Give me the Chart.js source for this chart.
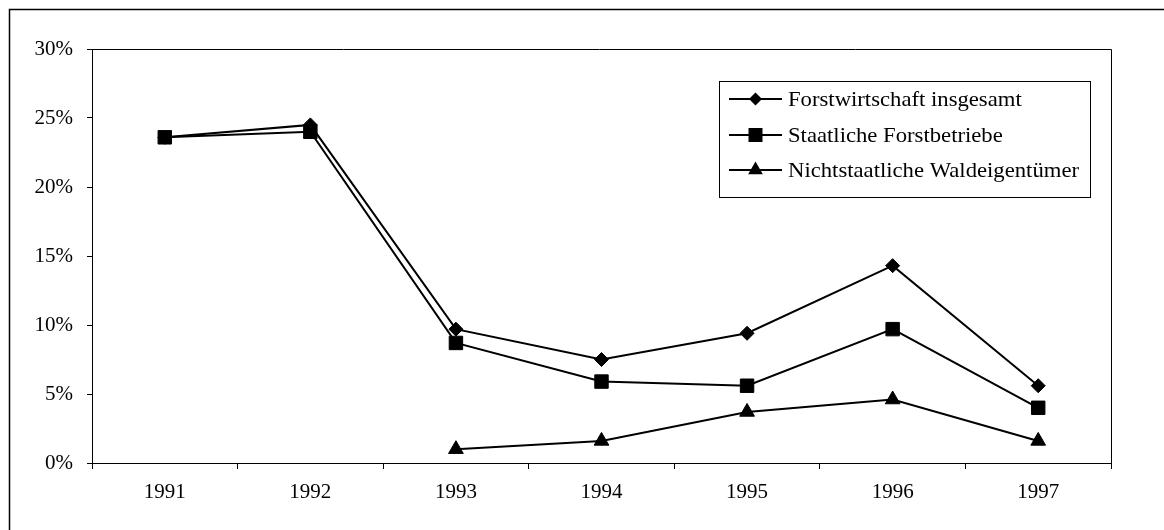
<!DOCTYPE html>
<html>
<head>
<meta charset="utf-8">
<script src="https://cdn.jsdelivr.net/npm/chart.js@4.4.1/dist/chart.umd.min.js"></script>
<style>
html,body{margin:0;padding:0;background:#fff;}
#wrap{width:1164px;height:530px;position:relative;}
</style>
</head>
<body>
<div id="wrap"><canvas id="c" width="1164" height="530"></canvas></div>
<script>
// ---- data ----
const years = ['1991', '1992', '1993', '1994', '1995', '1996', '1997'];
const forstwirtschaftInsgesamt = [23.6, 24.5, 9.7, 7.5, 9.4, 14.3, 5.6];
const staatlicheForstbetriebe = [23.6, 24.0, 8.7, 5.9, 5.6, 9.7, 4.0];
const nichtstaatlicheWaldeigentuemer = [null, null, 1.0, 1.6, 3.7, 4.6, 1.6];
const seriesNames = ['Forstwirtschaft insgesamt', 'Staatliche Forstbetriebe', 'Nichtstaatliche Waldeigentümer'];
const yTickValues = [0, 5, 10, 15, 20, 25, 30];

const FONT = '"Liberation Serif", "Times New Roman", serif';

function drawMarker(ctx, shape, x, y) {
  ctx.beginPath();
  if (shape === 'rectRot') {
    const r = 6.5;
    ctx.moveTo(x - r, y); ctx.lineTo(x, y - r); ctx.lineTo(x + r, y); ctx.lineTo(x, y + r);
  } else if (shape === 'rect') {
    const s = 7;
    ctx.rect(x - s, y - s, 2 * s, 2 * s);
  } else {
    const r = 8.5;
    ctx.moveTo(x, y - r);
    ctx.lineTo(x + r * Math.sin(2 * Math.PI / 3), y + r / 2);
    ctx.lineTo(x - r * Math.sin(2 * Math.PI / 3), y + r / 2);
  }
  ctx.closePath();
  ctx.fill();
}

const framePlugin = {
  id: 'frame',
  beforeDraw(chart) {
    const ctx = chart.ctx;
    ctx.save();
    ctx.fillStyle = '#fff';
    ctx.fillRect(0, 0, chart.width, chart.height);
    ctx.strokeStyle = '#000';
    ctx.lineWidth = 1.5;
    ctx.beginPath();
    ctx.moveTo(9.5, chart.height);
    ctx.lineTo(9.5, 9.5);
    ctx.lineTo(chart.width, 9.5);
    ctx.stroke();
    ctx.restore();
  },
  afterDatasetsDraw(chart) {
    const ctx = chart.ctx;
    const a = chart.chartArea;
    ctx.save();
    ctx.strokeStyle = '#000';
    ctx.lineWidth = 1;
    ctx.beginPath();
    ctx.moveTo(Math.round(a.left) - 4.5, Math.round(a.top) + 0.5);
    ctx.lineTo(Math.round(a.right) + 0.5, Math.round(a.top) + 0.5);
    ctx.lineTo(Math.round(a.right) + 0.5, Math.round(a.bottom) + 6);
    ctx.stroke();
    // legend box
    const bx = 719.5, by = 81.5, bw = 371, bh = 116;
    ctx.fillStyle = '#fff';
    ctx.fillRect(bx, by, bw, bh);
    ctx.strokeRect(bx, by, bw, bh);
    const rows = [99, 135, 170];
    chart.data.datasets.forEach((ds, i) => {
      const y = rows[i];
      ctx.strokeStyle = '#000';
      ctx.lineWidth = 2;
      ctx.beginPath();
      ctx.moveTo(729, y); ctx.lineTo(782, y);
      ctx.stroke();
      ctx.fillStyle = '#000';
      drawMarker(ctx, ds.pointStyle, 755.5, y);
      ctx.save();
      ctx.translate(788, y);
      ctx.scale(1.08, 1);
      ctx.font = '21px ' + FONT;
      ctx.textBaseline = 'middle';
      ctx.textAlign = 'left';
      ctx.fillText(ds.label, 0, 1);
      ctx.restore();
    });
    ctx.restore();
  }
};

const common = {
  borderColor: '#000',
  backgroundColor: '#000',
  pointBackgroundColor: '#000',
  pointBorderColor: '#000',
  borderWidth: 2,
  pointBorderWidth: 1,
  tension: 0,
  fill: false
};

new Chart(document.getElementById('c'), {
  type: 'line',
  data: {
    labels: years,
    datasets: [
      Object.assign({ label: seriesNames[0], data: forstwirtschaftInsgesamt, pointStyle: 'rectRot', pointRadius: 7 }, common),
      Object.assign({ label: seriesNames[1], data: staatlicheForstbetriebe, pointStyle: 'rect', pointRadius: 9.5 }, common),
      Object.assign({ label: seriesNames[2], data: nichtstaatlicheWaldeigentuemer, pointStyle: 'triangle', pointRadius: 8.5 }, common)
    ]
  },
  options: {
    responsive: false,
    animation: false,
    events: [],
    layout: { padding: { left: 0, top: 49, right: 53, bottom: 0 } },
    plugins: { legend: { display: false }, tooltip: { enabled: false } },
    scales: {
      x: {
        type: 'category',
        offset: true,
        grid: { offset: true, drawOnChartArea: false, drawTicks: true, tickLength: 6, color: '#000', lineWidth: 1 },
        border: { display: true, color: '#000', width: 1 },
        ticks: { color: '#000', font: { family: FONT, size: 21 }, padding: 11, maxRotation: 0, autoSkip: false },
        afterFit(scale) { scale.height = 67; }
      },
      y: {
        min: 0, max: 30,
        afterBuildTicks(scale) { scale.ticks = yTickValues.map(v => ({ value: v })); },
        grid: { drawOnChartArea: false, drawTicks: true, tickLength: 5, color: '#000', lineWidth: 1 },
        border: { display: true, color: '#000', width: 1 },
        ticks: { color: '#000', font: { family: FONT, size: 21 }, padding: 14, callback: v => v + '%' },
        afterFit(scale) { scale.width = 92; }
      }
    }
  },
  plugins: [framePlugin]
});
</script>
</body>
</html>
